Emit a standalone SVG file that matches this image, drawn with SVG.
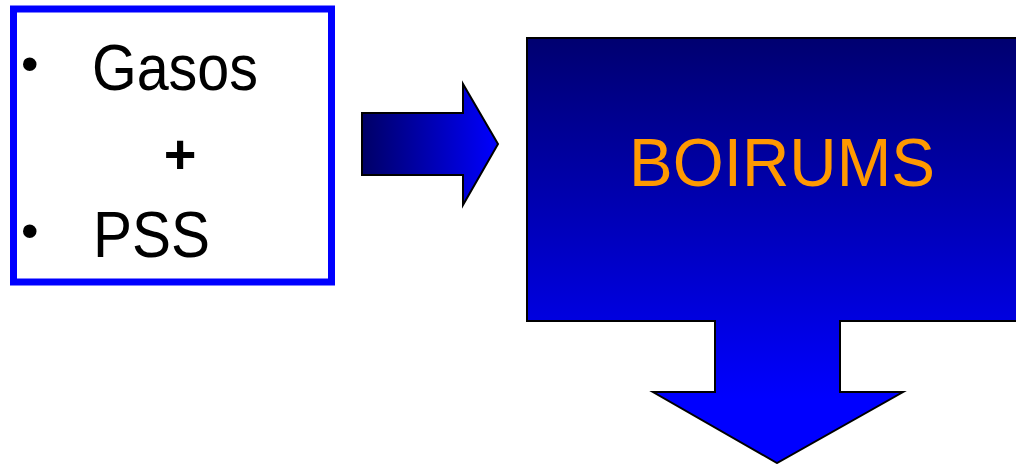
<svg xmlns="http://www.w3.org/2000/svg" width="1016" height="464" viewBox="0 0 1016 464">
  <style>
    .t { font-family: "Comic Sans MS", "Liberation Sans", sans-serif; }
    .blk { fill: #000000; }
    .bul { font-size: 50px; }
    .edge { stroke: #000000; stroke-width: 2; stroke-linejoin: miter; }
  </style>
  <defs>
    <linearGradient id="gh" x1="0" y1="0" x2="1" y2="0">
      <stop offset="0" stop-color="#000066"/>
      <stop offset="1" stop-color="#0000FF"/>
    </linearGradient>
    <linearGradient id="gv" gradientUnits="userSpaceOnUse" x1="0" y1="38" x2="0" y2="463">
      <stop offset="0" stop-color="#000070"/>
      <stop offset="0.85" stop-color="#0000FF"/>
      <stop offset="1" stop-color="#0000FF"/>
    </linearGradient>
  </defs>
  <rect width="1016" height="464" fill="#FFFFFF"/>

  <g id="node-inputs">
    <rect x="13.5" y="9" width="318" height="273" fill="#FFFFFF" stroke="#0000FF" stroke-width="7"/>
    <text class="t blk bul" x="21" y="81">•</text>
    <text class="t blk" x="92" y="90" font-size="65" textLength="166" lengthAdjust="spacingAndGlyphs">Gasos</text>
    <text class="t blk" x="180" y="173" font-size="56" font-weight="bold" text-anchor="middle">+</text>
    <text class="t blk bul" x="21" y="248">•</text>
    <text class="t blk" x="93" y="257" font-size="65" textLength="117" lengthAdjust="spacingAndGlyphs">PSS</text>
  </g>

  <g id="connectors">
    <polygon class="edge" points="362,113 463,113 463,84 498,144 463,205 463,175 362,175" fill="url(#gh)"/>
  </g>

  <g id="node-boirums">
    <polygon class="edge" points="527,38 1030,38 1030,321 840,321 840,392 903,392 777,463 653,392 715,392 715,321 527,321" fill="url(#gv)"/>
    <text class="t" x="629" y="186" font-size="68" fill="#FF9900" textLength="306" lengthAdjust="spacingAndGlyphs">BOIRUMS</text>
  </g>
</svg>
